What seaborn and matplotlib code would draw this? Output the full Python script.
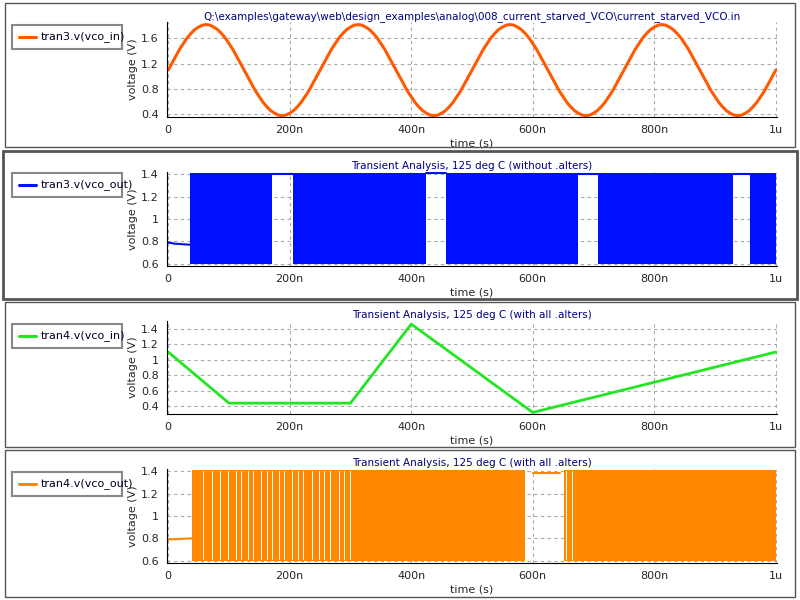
import numpy as np
import pandas as pd
import matplotlib
matplotlib.use("Agg")
import matplotlib.pyplot as plt
from matplotlib.patches import Rectangle
from matplotlib.ticker import MultipleLocator
import seaborn as sns

sns.set_style("white")
plt.rcParams['font.family'] = ['DejaVu Sans']

# ---- data ----
# panel 1: tran3.v(vco_in), one period sampled every 6.25n, repeated 4 periods
sine_period = [1.10, 1.21, 1.32, 1.43, 1.52, 1.61, 1.68, 1.74, 1.78, 1.81,
               1.82, 1.81, 1.78, 1.74, 1.68, 1.61, 1.52, 1.43, 1.32, 1.21,
               1.10, 0.99, 0.88, 0.77, 0.68, 0.59, 0.52, 0.46, 0.42, 0.39,
               0.38, 0.39, 0.42, 0.46, 0.52, 0.59, 0.68, 0.77, 0.88, 0.99]
vin3_vals = sine_period * 4 + [1.10]
vin3_t = [i * 6.25 for i in range(len(vin3_vals))]

# panel 2: tran3.v(vco_out)
out3_flat_t = [0, 10, 10, 36]
out3_flat_v = [0.79, 0.79, 0.77, 0.77]
out3_bursts = [(36, 170), (205, 425), (458, 674), (707, 929), (958, 1000)]
out3_holds = [(170, 205, 1.40), (425, 458, 1.41), (674, 707, 1.40), (929, 958, 1.40)]

# panel 3: tran4.v(vco_in)
vin4_t = [0, 100, 300, 400, 600, 1000]
vin4_v = [1.10, 0.44, 0.44, 1.46, 0.32, 1.10]

# panel 4: tran4.v(vco_out)
out4_flat_t = [0, 20, 20, 39]
out4_flat_v = [0.79, 0.79, 0.80, 0.80]
out4_bursts = [(39, 588), (651, 1000)]
out4_holds = [(600, 645, 1.38)]
out4_gaps = [58, 72, 85, 98, 112, 120, 131, 140, 152, 163, 171, 182, 190, 203,
             214, 222, 236, 248, 257, 266, 281, 290, 300, 655, 664]

xticks = [0, 200, 400, 600, 800, 1000]
xticklabels = ["0", "200n", "400n", "600n", "800n", "1u"]

W, H = 800, 600
fig = plt.figure(figsize=(8, 6), dpi=100)

def fx(px): return px / W
def fy(py): return 1 - py / H

panels = [
    dict(box=(5, 3, 795, 147), lw=1.0, ax=(167, 22, 777, 117),
         legend="tran3.v(vco_in)", color="#ff5a00",
         title="Q:\\examples\\gateway\\web\\design_examples\\analog\\008_current_starved_VCO\\current_starved_VCO.in",
         ylim=(0.36, 1.86), yticks=[0.4, 0.8, 1.2, 1.6], ylab=["0.4", "0.8", "1.2", "1.6"]),
    dict(box=(3, 151, 797, 299), lw=2.0, ax=(167, 172, 777, 266),
         legend="tran3.v(vco_out)", color="#0010ff",
         title="Transient Analysis, 125 deg C (without .alters)",
         ylim=(0.58, 1.42), yticks=[0.6, 0.8, 1.0, 1.2, 1.4], ylab=["0.6", "0.8", "1", "1.2", "1.4"]),
    dict(box=(5, 302, 795, 447), lw=1.0, ax=(167, 321, 777, 414),
         legend="tran4.v(vco_in)", color="#22e622",
         title="Transient Analysis, 125 deg C (with all .alters)",
         ylim=(0.3, 1.5), yticks=[0.4, 0.6, 0.8, 1.0, 1.2, 1.4], ylab=["0.4", "0.6", "0.8", "1", "1.2", "1.4"]),
    dict(box=(5, 450, 795, 597), lw=1.0, ax=(167, 469, 777, 563),
         legend="tran4.v(vco_out)", color="#ff8800",
         title="Transient Analysis, 125 deg C (with all .alters)",
         ylim=(0.58, 1.42), yticks=[0.6, 0.8, 1.0, 1.2, 1.4], ylab=["0.6", "0.8", "1", "1.2", "1.4"]),
]

for i, p in enumerate(panels):
    x0, y0, x1, y1 = p["box"]
    fig.patches.append(Rectangle((fx(x0), fy(y1)), fx(x1 - x0), (y1 - y0) / H,
                                 transform=fig.transFigure, fill=False,
                                 edgecolor="#555555", linewidth=p["lw"]))
    ax0, ay0, ax1, ay1 = p["ax"]
    ax = fig.add_axes([fx(ax0), fy(ay1), fx(ax1 - ax0), (ay1 - ay0) / H])
    c = p["color"]
    if i == 0:
        sns.lineplot(x=vin3_t, y=vin3_vals, ax=ax, color=c, linewidth=2.2)
    elif i == 1:
        sns.lineplot(x=out3_flat_t, y=out3_flat_v, ax=ax, color=c, linewidth=1.5, sort=False)
        for a, b in out3_bursts:
            ax.fill_between([a, b], 0.6, 1.41, color=c, linewidth=0)
        for a, b, v in out3_holds:
            ax.plot([a, b], [v, v], color=c, linewidth=1.5)
    elif i == 2:
        sns.lineplot(x=vin4_t, y=vin4_v, ax=ax, color=c, linewidth=2.0)
    else:
        sns.lineplot(x=out4_flat_t, y=out4_flat_v, ax=ax, color=c, linewidth=1.5, sort=False)
        for a, b in out4_bursts:
            ax.fill_between([a, b], 0.6, 1.41, color=c, linewidth=0)
        for g in out4_gaps:
            ax.plot([g, g], [0.62, 1.40], color="white", linewidth=0.7)
        for a, b, v in out4_holds:
            ax.plot([a, b], [v, v], color=c, linewidth=1.5)
    ax.set_xlim(-2, 1002)
    ax.set_ylim(*p["ylim"])
    ax.set_xticks(xticks)
    ax.set_xticklabels(xticklabels, fontsize=8)
    ax.xaxis.set_minor_locator(MultipleLocator(40))
    ax.set_yticks(p["yticks"])
    ax.set_yticklabels(p["ylab"], fontsize=8)
    ax.grid(True, which="major", color="#aaaaaa", linestyle=(0, (3, 3)), linewidth=0.8)
    for s in ["top", "right"]:
        ax.spines[s].set_visible(False)
    for s in ["left", "bottom"]:
        ax.spines[s].set_color("black")
        ax.spines[s].set_linewidth(0.8)
    ax.tick_params(axis="both", which="major", direction="inout", length=8, width=0.8, pad=2)
    ax.tick_params(axis="x", which="minor", direction="in", length=4, width=0.8)
    ax.set_xlabel("time (s)", fontsize=8, labelpad=2)
    ax.set_ylabel("voltage (V)", fontsize=8, labelpad=2)
    ax.set_title(p["title"], fontsize=7.5, color="#000080", pad=2)
    # legend box
    lx0, ly0, lx1, ly1 = 12, y0 + 22, 122, y0 + 46
    fig.patches.append(Rectangle((fx(lx0), fy(ly1)), fx(lx1 - lx0), (ly1 - ly0) / H,
                                 transform=fig.transFigure, fill=False,
                                 edgecolor="#888888", linewidth=1.5))
    ym = fy((ly0 + ly1) / 2)
    fig.add_artist(plt.Line2D([fx(19), fx(36)], [ym, ym], transform=fig.transFigure,
                              color=c, linewidth=2.2))
    fig.text(fx(41), ym, p["legend"], fontsize=8, va="center", ha="left", color="#000020")

fig.savefig("out.png", dpi=100)
